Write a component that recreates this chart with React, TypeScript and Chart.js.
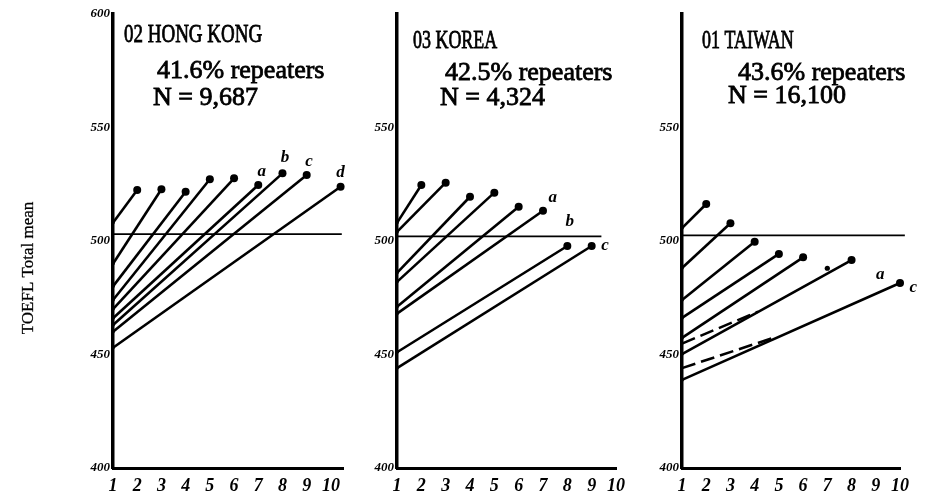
import React, { useEffect, useRef } from 'react';
import { Chart, registerables } from 'chart.js';
Chart.register(...registerables);

// ---------- data ----------
const xMin = 1;
const xTickValues = [1, 2, 3, 4, 5, 6, 7, 8, 9, 10];
const yMin = 400;
const yMax = 600;

// 02 HONG KONG
const hkTitle = ['02 HONG KONG', '41.6% repeaters', 'N = 9,687'];
const hkEndX = [2, 3, 4, 5, 6, 7, 8, 9, 10.4];
const hkStart = [508, 490, 480, 474, 470, 466, 463, 460, 453];
const hkEnd = [522.5, 522.8, 521.7, 527.2, 527.6, 524.7, 529.8, 529.1, 523.9];
const hkRefX = [1, 10.45];
const hkRefY = [503, 503];
const hkLetters = ['a', 'b', 'c', 'd'];
const hkLetterX = [7.14, 8.1, 9.1, 10.4];
const hkLetterY = [530.5, 536.6, 535, 530];

// 03 KOREA
const krTitle = ['03 KOREA', '42.5% repeaters', 'N = 4,324'];
const krEndX = [2, 3, 4, 5, 6, 7, 8, 9];
const krStart = [508, 504, 486, 482, 471, 468, 451, 444];
const krEnd = [524.7, 525.7, 519.5, 521.3, 515.1, 513.3, 497.8, 497.8];
const krRefX = [1, 9.4];
const krRefY = [502, 502];
const krLetters = ['a', 'b', 'c'];
const krLetterX = [7.4, 8.1, 9.55];
const krLetterY = [518.9, 508.4, 497.8];

// 01 TAIWAN
const twTitle = ['01 TAIWAN', '43.6% repeaters', 'N = 16,100'];
const twEndX = [2, 3, 4, 5, 6, 8, 10];
const twStart = [505.7, 488.1, 474, 466.1, 457.3, 450.2, 438.8];
const twEnd = [516.3, 507.8, 499.7, 494.3, 492.8, 491.6, 481.5];
const twMidX = [7];
const twMidY = [488];
const twDashStart = [454.8, 444];
const twDashEndX = [4.14, 4.9];
const twDashEnd = [468.9, 457.8];
const twRefX = [1, 10.2];
const twRefY = [502.5, 502.5];
const twLetters = ['a', 'c'];
const twLetterX = [9.18, 10.55];
const twLetterY = [485, 479.3];

const yTitle = 'TOEFL Total mean';

// ---------- helpers ----------
const BLACK = '#000';
const SERIF = '"Liberation Serif", "DejaVu Serif", serif';

function solidSets(startY: number[], endX: number[], endY: number[]) {
  return startY.map((s, i) => ({
    data: [
      { x: xMin, y: s },
      { x: endX[i], y: endY[i] },
    ],
    borderColor: BLACK,
    borderWidth: 2.6,
    pointRadius: [1.8, 4],
    pointBackgroundColor: BLACK,
    pointBorderColor: BLACK,
    pointBorderWidth: 0,
    tension: 0,
    fill: false,
    clip: false as const,
  }));
}

function dashSets(startY: number[], endX: number[], endY: number[]) {
  return startY.map((s, i) => ({
    data: [
      { x: xMin, y: s },
      { x: endX[i], y: endY[i] },
    ],
    borderColor: BLACK,
    borderWidth: 2.6,
    borderDash: [14, 6],
    pointRadius: 0,
    tension: 0,
    fill: false,
    clip: false as const,
  }));
}

function refSet(xs: number[], ys: number[]) {
  return {
    data: xs.map((x, i) => ({ x, y: ys[i] })),
    borderColor: BLACK,
    borderWidth: 1.8,
    pointRadius: 0,
    fill: false,
    clip: false as const,
  };
}

function dotSet(xs: number[], ys: number[]) {
  return {
    data: xs.map((x, i) => ({ x, y: ys[i] })),
    showLine: false,
    pointRadius: 2.6,
    pointBackgroundColor: BLACK,
    pointBorderWidth: 0,
    clip: false as const,
  };
}

type TextItem = { text: string; x: number; y: number; font: string; sx?: number; rot?: number; align?: CanvasTextAlign };

type Panel = {
  left: number;
  width: number;
  yAxisWidth: number;
  padRight: number;
  xMaxView: number;
  datasets: any[];
  texts: TextItem[];
  letters: string[];
  letterX: number[];
  letterY: number[];
  showTop: boolean;
};

const headFont = `26px ${SERIF}`;
const bodyFont = `26px ${SERIF}`;

const panels: Panel[] = [
  {
    left: 0,
    width: 360,
    yAxisWidth: 113,
    padRight: 17,
    xMaxView: 10.5,
    datasets: [refSet(hkRefX, hkRefY), ...solidSets(hkStart, hkEndX, hkEnd)],
    texts: [
      { text: hkTitle[0], x: 124, y: 42, font: headFont, sx: 0.73 },
      { text: hkTitle[1], x: 157, y: 78, font: bodyFont },
      { text: hkTitle[2], x: 153, y: 105, font: bodyFont },
      { text: yTitle, x: 29, y: 268, font: `17px ${SERIF}`, rot: -Math.PI / 2, align: 'center' },
    ],
    letters: hkLetters,
    letterX: hkLetterX,
    letterY: hkLetterY,
    showTop: true,
  },
  {
    left: 360,
    width: 285,
    yAxisWidth: 37,
    padRight: 29,
    xMaxView: 10,
    datasets: [refSet(krRefX, krRefY), ...solidSets(krStart, krEndX, krEnd)],
    texts: [
      { text: krTitle[0], x: 413, y: 48, font: headFont, sx: 0.69 },
      { text: krTitle[1], x: 445, y: 80, font: bodyFont },
      { text: krTitle[2], x: 440, y: 105, font: bodyFont },
    ],
    letters: krLetters,
    letterX: krLetterX,
    letterY: krLetterY,
    showTop: false,
  },
  {
    left: 645,
    width: 280,
    yAxisWidth: 37,
    padRight: 25,
    xMaxView: 10,
    datasets: [
      refSet(twRefX, twRefY),
      ...solidSets(twStart, twEndX, twEnd),
      ...dashSets(twDashStart, twDashEndX, twDashEnd),
      dotSet(twMidX, twMidY),
    ],
    texts: [
      { text: twTitle[0], x: 702, y: 48, font: headFont, sx: 0.69 },
      { text: twTitle[1], x: 738, y: 80, font: bodyFont },
      { text: twTitle[2], x: 728, y: 103, font: bodyFont },
    ],
    letters: twLetters,
    letterX: twLetterX,
    letterY: twLetterY,
    showTop: false,
  },
];

function PanelChart({ p }: { p: Panel }) {
  const ref = useRef<HTMLCanvasElement | null>(null);
  useEffect(() => {
    if (!ref.current) return;
    const annot = {
      id: 'annot',
      afterDraw(chart: any) {
        const { ctx, scales } = chart;
        ctx.save();
        ctx.fillStyle = BLACK;
        ctx.strokeStyle = BLACK;
        for (const t of p.texts) {
          ctx.save();
          ctx.font = t.font;
          ctx.translate(t.x - p.left, t.y);
          if (t.rot) ctx.rotate(t.rot);
          ctx.scale(t.sx ?? 1, 1);
          ctx.textAlign = t.align ?? 'left';
          ctx.textBaseline = t.rot ? 'middle' : 'alphabetic';
          ctx.fillText(t.text, 0, 0);
          ctx.lineWidth = t.rot ? 0.3 : 0.8;
          ctx.strokeText(t.text, 0, 0);
          ctx.restore();
        }
        ctx.font = `bold italic 17px ${SERIF}`;
        ctx.textAlign = 'center';
        ctx.textBaseline = 'middle';
        p.letters.forEach((l, i) => {
          ctx.fillText(l, scales.x.getPixelForValue(p.letterX[i]), scales.y.getPixelForValue(p.letterY[i]));
        });
        ctx.restore();
      },
    };
    const chart = new Chart(ref.current, {
      type: 'line',
      data: { datasets: p.datasets },
      options: {
        animation: false,
        responsive: false,
        maintainAspectRatio: false,
        layout: { padding: { top: 14, right: p.padRight, left: 0, bottom: 0 } },
        plugins: {
          legend: { display: false },
          tooltip: { enabled: false },
          title: { display: false },
        },
        scales: {
          x: {
            type: 'linear',
            min: xMin,
            max: p.xMaxView,
            afterFit: (s: any) => {
              s.height = 31;
            },
            afterBuildTicks: (s: any) => {
              s.ticks = xTickValues.map((v) => ({ value: v }));
            },
            ticks: {
              stepSize: 1,
              color: BLACK,
              padding: 8,
              maxRotation: 0,
              autoSkip: false,
              font: { family: SERIF, size: 18, weight: 'bold', style: 'italic' },
            },
            grid: { display: false, drawTicks: false },
            border: { display: true, color: BLACK, width: 3 },
          },
          y: {
            type: 'linear',
            min: yMin,
            max: yMax,
            afterFit: (s: any) => {
              s.width = p.yAxisWidth;
            },
            ticks: {
              stepSize: 50,
              color: BLACK,
              padding: 3,
              font: { family: SERIF, size: 13, weight: 'bold', style: 'italic' },
              callback: (v: any) => (v === yMax && !p.showTop ? '' : String(v)),
            },
            grid: { display: false, drawTicks: false },
            border: { display: true, color: BLACK, width: 3.5 },
          },
        },
      },
      plugins: [annot],
    } as any);
    return () => chart.destroy();
  }, [p]);
  return (
    <canvas
      ref={ref}
      width={p.width}
      height={499}
      style={{ position: 'absolute', left: p.left, top: 0, width: p.width, height: 499 }}
    />
  );
}

export default function App() {
  return (
    <div style={{ position: 'absolute', left: 0, top: 0, width: 925, height: 499, background: '#fff' }}>
      {panels.map((p, i) => (
        <PanelChart key={i} p={p} />
      ))}
    </div>
  );
}
